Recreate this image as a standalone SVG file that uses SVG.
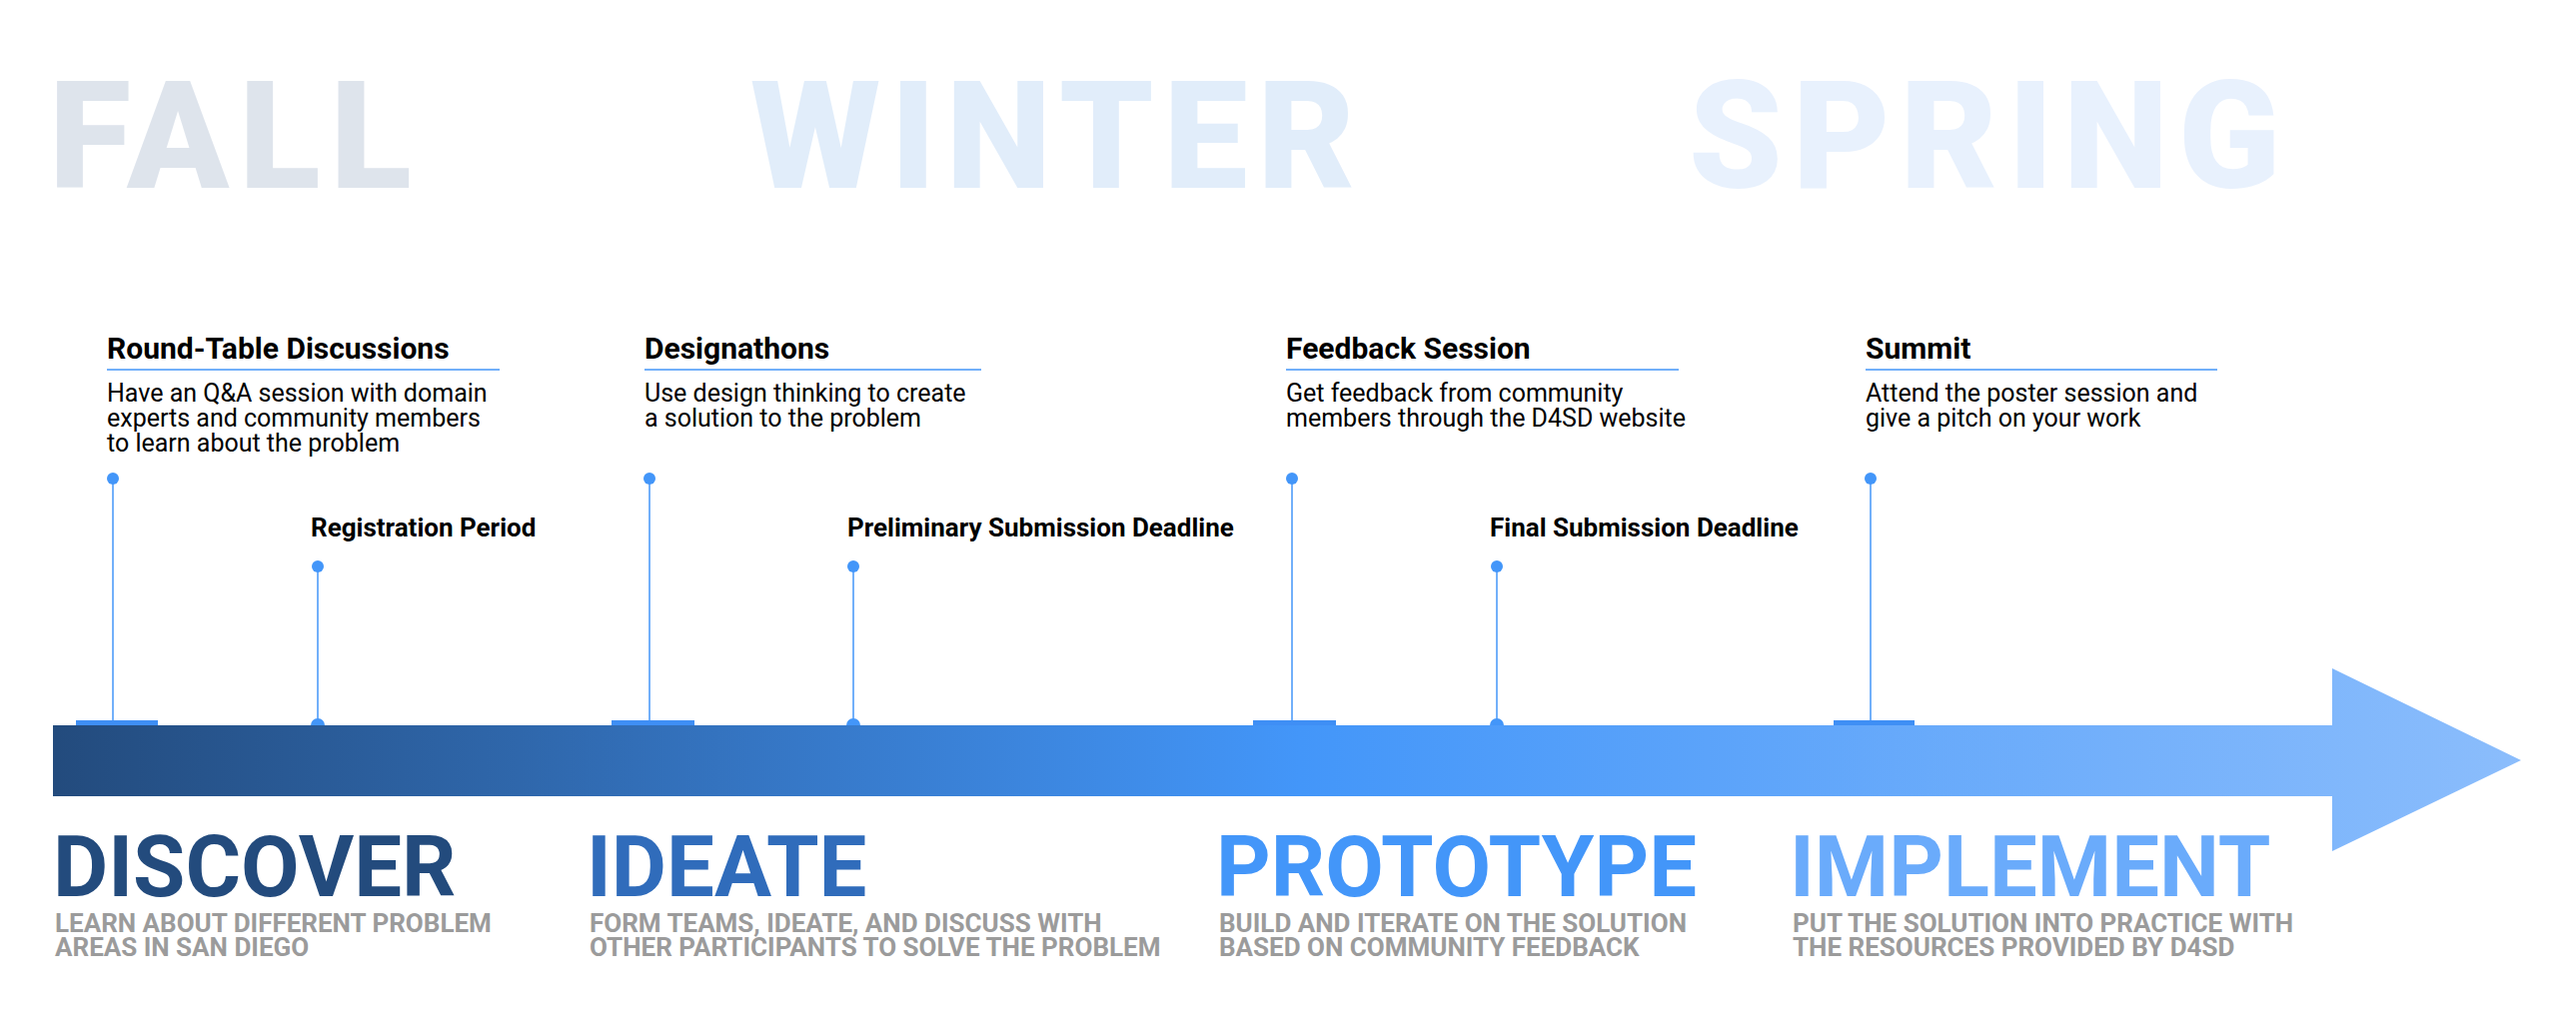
<svg xmlns="http://www.w3.org/2000/svg" width="2578" height="1037" viewBox="0 0 2578 1037">
  <style>
    .season { font-family: Roboto, "Liberation Sans", sans-serif; font-weight: 900; font-size: 150px; letter-spacing: 10px; }
    .evt-title { font-family: Roboto, "Liberation Sans", sans-serif; font-weight: 700; font-size: 30px; fill: #000; }
    .evt-mark { font-family: Roboto, "Liberation Sans", sans-serif; font-weight: 700; font-size: 26px; fill: #000; }
    .evt-desc { font-family: Roboto, "Liberation Sans", sans-serif; font-weight: 400; font-size: 25px; fill: #000; }
    .stage { font-family: Roboto, "Liberation Sans", sans-serif; font-weight: 700; font-size: 85px; }
    .stage-sub { font-family: Roboto, "Liberation Sans", sans-serif; font-weight: 700; font-size: 26px; fill: #9b9b9b; }
    .rule { stroke: #4396f9; stroke-width: 1.5; }
    .stem { stroke: #4396f9; stroke-width: 1.5; fill: none; }
    .dot { fill: #4396f9; }
    .tab { fill: #3f8ff5; }
  </style>
  <defs>
    <linearGradient id="barGrad" gradientUnits="userSpaceOnUse" x1="53" y1="0" x2="2523" y2="0">
      <stop offset="0" stop-color="#234b7d"/>
      <stop offset="0.505" stop-color="#4396f9"/>
      <stop offset="1" stop-color="#8bbdfc"/>
    </linearGradient>
  </defs>

  <rect width="2578" height="1037" fill="#ffffff"/>

  <!-- season headings -->
  <g id="seasons">
    <text class="season" x="49" y="188" fill="#dee4ec">FALL</text>
    <text class="season" x="751" y="188" fill="#e1edfa">WINTER</text>
    <text class="season" x="1690" y="188" fill="#e8f1fd">SPRING</text>
  </g>

  <!-- timeline arrow -->
  <g id="timeline">
    <path d="M53 726 H2334 V669 L2523 761 L2334 852 V797 H53 Z" fill="url(#barGrad)"/>
  </g>

  <!-- stems from event dots down to the timeline -->
  <g id="connectors">
    <line class="stem" x1="113" y1="479" x2="113" y2="722"/>
    <line class="stem" x1="318" y1="567" x2="318" y2="726"/>
    <line class="stem" x1="650" y1="479" x2="650" y2="722"/>
    <line class="stem" x1="854" y1="567" x2="854" y2="726"/>
    <line class="stem" x1="1293" y1="479" x2="1293" y2="722"/>
    <line class="stem" x1="1498" y1="567" x2="1498" y2="726"/>
    <line class="stem" x1="1872" y1="479" x2="1872" y2="722"/>
  </g>

  <!-- major events -->
  <g id="event-roundtable">
    <text class="evt-title" x="107" y="359">Round-Table Discussions</text>
    <line class="rule" x1="107" y1="370" x2="500" y2="370"/>
    <text class="evt-desc" x="107" y="402">Have an Q&amp;A session with domain</text>
    <text class="evt-desc" x="107" y="427">experts and community members</text>
    <text class="evt-desc" x="107" y="452">to learn about the problem</text>
    <circle class="dot" cx="113" cy="479" r="6"/>
    <rect class="tab" x="76" y="721" width="82" height="5"/>
  </g>

  <g id="event-designathons">
    <text class="evt-title" x="645" y="359">Designathons</text>
    <line class="rule" x1="645" y1="370" x2="982" y2="370"/>
    <text class="evt-desc" x="645" y="402">Use design thinking to create</text>
    <text class="evt-desc" x="645" y="427">a solution to the problem</text>
    <circle class="dot" cx="650" cy="479" r="6"/>
    <rect class="tab" x="612" y="721" width="83" height="5"/>
  </g>

  <g id="event-feedback">
    <text class="evt-title" x="1287" y="359">Feedback Session</text>
    <line class="rule" x1="1287" y1="370" x2="1680" y2="370"/>
    <text class="evt-desc" x="1287" y="402">Get feedback from community</text>
    <text class="evt-desc" x="1287" y="427">members through the D4SD website</text>
    <circle class="dot" cx="1293" cy="479" r="6"/>
    <rect class="tab" x="1254" y="721" width="83" height="5"/>
  </g>

  <g id="event-summit">
    <text class="evt-title" x="1867" y="359">Summit</text>
    <line class="rule" x1="1867" y1="370" x2="2219" y2="370"/>
    <text class="evt-desc" x="1867" y="402">Attend the poster session and</text>
    <text class="evt-desc" x="1867" y="427">give a pitch on your work</text>
    <circle class="dot" cx="1872" cy="479" r="6"/>
    <rect class="tab" x="1835" y="721" width="81" height="5"/>
  </g>

  <!-- deadlines -->
  <g id="event-registration">
    <text class="evt-mark" x="311" y="537">Registration Period</text>
    <circle class="dot" cx="318" cy="567" r="6"/>
    <path class="dot" d="M311 726 A7 7 0 0 1 325 726 Z"/>
  </g>

  <g id="event-preliminary">
    <text class="evt-mark" x="848" y="537">Preliminary Submission Deadline</text>
    <circle class="dot" cx="854" cy="567" r="6"/>
    <path class="dot" d="M847 726 A7 7 0 0 1 861 726 Z"/>
  </g>

  <g id="event-final">
    <text class="evt-mark" x="1491" y="537">Final Submission Deadline</text>
    <circle class="dot" cx="1498" cy="567" r="6"/>
    <path class="dot" d="M1491 726 A7 7 0 0 1 1505 726 Z"/>
  </g>

  <!-- phases -->
  <g id="stage-discover">
    <text class="stage" x="53" y="897" fill="#234b7d">DISCOVER</text>
    <text class="stage-sub" x="55" y="933">LEARN ABOUT DIFFERENT PROBLEM</text>
    <text class="stage-sub" x="55" y="957">AREAS IN SAN DIEGO</text>
  </g>

  <g id="stage-ideate">
    <text class="stage" x="587" y="897" fill="#306cbb">IDEATE</text>
    <text class="stage-sub" x="590" y="933">FORM TEAMS, IDEATE, AND DISCUSS WITH</text>
    <text class="stage-sub" x="590" y="957">OTHER PARTICIPANTS TO SOLVE THE PROBLEM</text>
  </g>

  <g id="stage-prototype">
    <text class="stage" x="1217" y="897" fill="#4396f9">PROTOTYPE</text>
    <text class="stage-sub" x="1220" y="933">BUILD AND ITERATE ON THE SOLUTION</text>
    <text class="stage-sub" x="1220" y="957">BASED ON COMMUNITY FEEDBACK</text>
  </g>

  <g id="stage-implement">
    <text class="stage" x="1791" y="897" fill="#6aabfb">IMPLEMENT</text>
    <text class="stage-sub" x="1794" y="933">PUT THE SOLUTION INTO PRACTICE WITH</text>
    <text class="stage-sub" x="1794" y="957">THE RESOURCES PROVIDED BY D4SD</text>
  </g>
</svg>
